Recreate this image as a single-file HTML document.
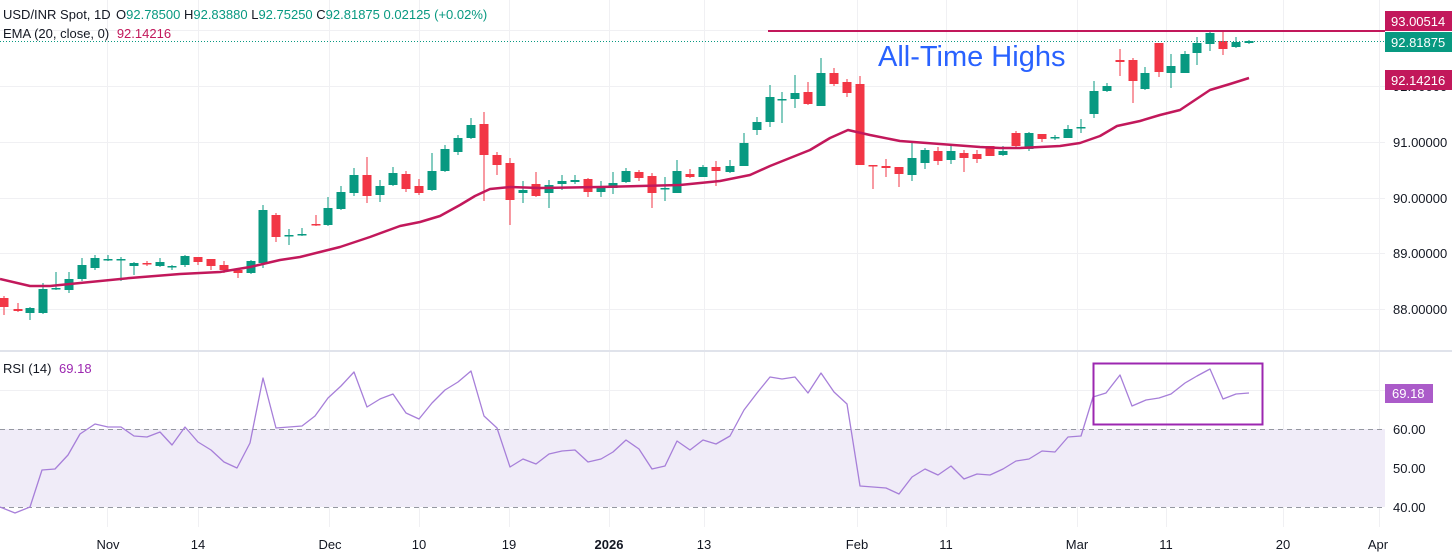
<!DOCTYPE html>
<html><head><meta charset="utf-8">
<style>
html,body{margin:0;padding:0;background:#fff;}
svg{display:block;font-family:"Liberation Sans",sans-serif;}
</style></head>
<body>
<svg width="1452" height="555" viewBox="0 0 1452 555" xmlns="http://www.w3.org/2000/svg">
<rect width="1452" height="555" fill="#fff"/>
<g stroke="#f0f0f3" stroke-width="1">
<line x1="0" y1="30.5" x2="1385" y2="30.5"/>
<line x1="0" y1="86.5" x2="1385" y2="86.5"/>
<line x1="0" y1="142.5" x2="1385" y2="142.5"/>
<line x1="0" y1="198.5" x2="1385" y2="198.5"/>
<line x1="0" y1="253.5" x2="1385" y2="253.5"/>
<line x1="0" y1="309.5" x2="1385" y2="309.5"/>
<line x1="0" y1="390.5" x2="1385" y2="390.5"/>
<line x1="0" y1="468.5" x2="1385" y2="468.5"/>
<line x1="107.5" y1="0" x2="107.5" y2="527"/>
<line x1="198.5" y1="0" x2="198.5" y2="527"/>
<line x1="329.5" y1="0" x2="329.5" y2="527"/>
<line x1="419.5" y1="0" x2="419.5" y2="527"/>
<line x1="509.5" y1="0" x2="509.5" y2="527"/>
<line x1="609.5" y1="0" x2="609.5" y2="527"/>
<line x1="704.5" y1="0" x2="704.5" y2="527"/>
<line x1="857.5" y1="0" x2="857.5" y2="527"/>
<line x1="946.5" y1="0" x2="946.5" y2="527"/>
<line x1="1077.5" y1="0" x2="1077.5" y2="527"/>
<line x1="1166.5" y1="0" x2="1166.5" y2="527"/>
<line x1="1283.5" y1="0" x2="1283.5" y2="527"/>
<line x1="1379.5" y1="0" x2="1379.5" y2="527"/>
</g>
<line x1="0" y1="351" x2="1452" y2="351" stroke="#e0e3eb" stroke-width="2"/>
<rect x="0" y="429" width="1385" height="78" fill="#f0ecf8"/>
<line x1="0" y1="429.5" x2="1385" y2="429.5" stroke="#9598a1" stroke-dasharray="5,4"/>
<line x1="0" y1="507.5" x2="1385" y2="507.5" stroke="#9598a1" stroke-dasharray="5,4"/>

<!-- green candles -->
<path fill="none" stroke="#089981" stroke-width="1" d="M30 307V320M43 283V314M56 272V290M69 272V293M82 258V281M95 255V270M108 255V261M121 257V281M134 262V275M160 258V267M172 265V270M185 255V267M251 260V274M263 205V268M289 229V245M302 228V236M328 197V226M341 186V210M354 168V196M380 180V202M393 167V186M432 153V191M445 145V172M458 135V155M471 118V139M523 181V203M549 180V208M562 175V190M575 175V184M601 181V197M613 172V194M626 168V183M665 177V201M677 160V193M703 165V177M730 160V173M744 133V166M757 117V135M770 85V127M782 92V123M795 75V108M821 58V106M912 142V181M925 148V169M951 145V164M1003 146V156M1029 132V151M1055 135V140M1068 125V138M1081 119V133M1094 81V118M1107 83V92M1145 67V90M1171 54V88M1185 51V73M1197 37V65M1210 32V51M1236 37V48M1249 40V44"/>
<path fill="#089981" d="M25.5 308h9V313h-9zM38.5 289h9V313h-9zM51.5 288h9V289.5h-9zM64.5 279h9V290h-9zM77.5 265h9V279h-9zM90.5 258h9V268h-9zM103.5 259h9V260.5h-9zM116.5 259h9V260.5h-9zM129.5 263h9V266h-9zM155.5 262h9V266h-9zM167.5 266h9V267.5h-9zM180.5 256h9V265h-9zM246.5 261h9V273h-9zM258.5 210h9V263h-9zM284.5 235h9V236.5h-9zM297.5 234h9V235.5h-9zM323.5 208h9V225h-9zM336.5 192h9V209h-9zM349.5 175h9V193h-9zM375.5 186h9V195h-9zM388.5 173h9V185h-9zM427.5 171h9V190h-9zM440.5 149h9V171h-9zM453.5 138h9V152h-9zM466.5 125h9V138h-9zM518.5 190h9V193h-9zM544.5 185h9V193h-9zM557.5 181h9V184h-9zM570.5 180h9V182h-9zM596.5 188h9V192h-9zM608.5 183h9V188h-9zM621.5 171h9V182h-9zM660.5 188h9V189.5h-9zM672.5 171h9V193h-9zM698.5 167h9V177h-9zM725.5 166h9V172h-9zM739.5 143h9V166h-9zM752.5 122h9V130h-9zM765.5 97h9V122h-9zM777.5 99h9V100.5h-9zM790.5 93h9V99h-9zM816.5 73h9V106h-9zM907.5 158h9V175h-9zM920.5 150h9V163h-9zM946.5 151h9V160h-9zM998.5 151h9V155h-9zM1024.5 133h9V149h-9zM1050.5 137h9V138.5h-9zM1063.5 129h9V138h-9zM1076.5 127h9V128.5h-9zM1089.5 91h9V114h-9zM1102.5 86h9V91h-9zM1140.5 73h9V89h-9zM1166.5 66h9V73h-9zM1180.5 54h9V73h-9zM1192.5 43h9V53h-9zM1205.5 33h9V44h-9zM1231.5 42h9V47h-9zM1244.5 41h9V43h-9z"/>
<!-- red candles -->
<path fill="none" stroke="#f23645" stroke-width="1" d="M4 296V315M18 303V312M147 261V266M198 257V265M211 259V270M224 261V273M238 268V278M276 213V242M316 215V226M367 157V203M406 171V192M419 179V195M484 112V201M497 152V175M510 158V225M536 172V197M588 178V197M639 170V181M652 173V208M690 169V178M716 161V186M808 82V105M834 68V86M847 79V97M860 76V165M873 165V189M886 159V177M899 167V187M938 147V165M964 150V172M977 150V163M990 146V156M1016 131V149M1042 134V142M1120 49V76M1133 58V103M1159 43V77M1223 32V55"/>
<path fill="#f23645" d="M-0.5 298h9V307h-9zM13.5 309h9V311h-9zM142.5 263h9V264.5h-9zM193.5 257h9V262h-9zM206.5 259h9V266h-9zM219.5 265h9V270h-9zM233.5 270h9V273h-9zM271.5 215h9V237h-9zM311.5 224h9V225.5h-9zM362.5 175h9V196h-9zM401.5 174h9V189h-9zM414.5 186h9V193h-9zM479.5 124h9V155h-9zM492.5 155h9V165h-9zM505.5 163h9V200h-9zM531.5 184h9V196h-9zM583.5 179h9V192h-9zM634.5 172h9V178h-9zM647.5 176h9V193h-9zM685.5 174h9V177h-9zM711.5 167h9V171h-9zM803.5 92h9V104h-9zM829.5 73h9V84h-9zM842.5 82h9V93h-9zM855.5 84h9V165h-9zM868.5 165h9V166.5h-9zM881.5 166h9V168h-9zM894.5 167h9V174h-9zM933.5 151h9V161h-9zM959.5 153h9V158h-9zM972.5 154h9V159h-9zM985.5 146h9V156h-9zM1011.5 133h9V146h-9zM1037.5 134h9V139h-9zM1115.5 60h9V62h-9zM1128.5 60h9V81h-9zM1154.5 43h9V72h-9zM1218.5 41h9V49h-9z"/>

<polyline fill="none" stroke="#c2185b" stroke-width="2.5" stroke-linejoin="round" points="0,279 30,286 50,286 80,283 130,278 180,274 220,272 250,267 280,260 300,257 320,252 340,247 370,237 400,226 420,222 440,216 460,205 475,196 490,189 510,187 540,188 600,187 640,186 680,185 720,181 750,175 770,166 790,158 810,150 830,138 848,130 870,135 900,141 940,144 980,147 1000,148 1020,148 1040,147 1060,146 1080,143 1100,136 1117,126 1140,121 1160,115 1180,110 1210,90 1230,84 1249,78"/>
<polyline fill="none" stroke="#a77fd9" stroke-width="1.3" stroke-linejoin="round" points="0,507 15,513 30,507 42,470 55,469 68,455 80,434 95,424 108,427 121,427 134,436 147,437 160,432 172,445 185,427 198,442 211,450 224,462 237,468 250,443 263,378 276,428 289,427 302,426 315,416 328,398 341,386 354,372 367,407 380,399 393,394 406,413 419,419 432,403 445,390 458,382 471,371 484,416 497,428 510,467 523,459 536,464 549,454 562,451 575,450 588,462 601,459 613,452 626,440 639,449 652,469 665,466 677,441 690,450 703,440 716,444 730,436 744,410 757,393 770,377 782,379 795,377 808,393 821,373 834,392 847,404 860,486 873,487 886,488 899,494 912,477 925,469 938,475 951,466 964,479 977,474 990,475 1003,469 1016,461 1029,459 1042,451 1055,452 1068,437 1081,436 1093,397 1106,393 1120,375 1132,406 1146,400 1159,398 1171,394 1185,383 1197,376 1210,369 1223,399 1236,394 1249,393"/>
<rect x="1093.5" y="363.5" width="169" height="61" fill="none" stroke="#9c27b0" stroke-width="2"/>
<line x1="0" y1="41.5" x2="1385" y2="41.5" stroke="#089981" stroke-dasharray="1,2" stroke-width="1"/>
<line x1="768" y1="31" x2="1385" y2="31" stroke="#c2185b" stroke-width="2"/>
<text x="878" y="66" font-size="29" fill="#2962ff">All-Time Highs</text>
<text x="3" y="19" font-size="13" fill="#131722">USD/INR Spot, 1D</text>
<text x="116" y="19" font-size="13" fill="#131722">O<tspan fill="#089981">92.78500</tspan>  H<tspan fill="#089981">92.83880</tspan>  L<tspan fill="#089981">92.75250</tspan>  C<tspan fill="#089981">92.81875</tspan>  <tspan fill="#089981">0.02125 (+0.02%)</tspan></text>
<text x="3" y="38" font-size="13" fill="#131722">EMA (20, close, 0) <tspan fill="#c2185b" dx="4">92.14216</tspan></text>
<text x="3" y="373" font-size="13" fill="#131722">RSI (14) <tspan fill="#9c27b0" dx="4">69.18</tspan></text>
<g font-size="13" fill="#131722">
<text x="1393" y="91">92.00000</text>
<text x="1393" y="147">91.00000</text>
<text x="1393" y="203">90.00000</text>
<text x="1393" y="258">89.00000</text>
<text x="1393" y="314">88.00000</text>
<text x="1393" y="434">60.00</text>
<text x="1393" y="473">50.00</text>
<text x="1393" y="512">40.00</text>
</g>
<rect x="1385" y="11" width="67" height="20" fill="#c2185b"/>
<text x="1391" y="26" font-size="13" fill="#fff">93.00514</text>
<rect x="1385" y="32" width="67" height="20" fill="#089981"/>
<text x="1391" y="47" font-size="13" fill="#fff">92.81875</text>
<rect x="1385" y="70" width="67" height="20" fill="#c2185b"/>
<text x="1391" y="85" font-size="13" fill="#fff">92.14216</text>
<rect x="1385" y="384" width="48" height="19" fill="#ab5bc9"/>
<text x="1392" y="398" font-size="13" fill="#fff">69.18</text>
<g font-size="13" fill="#131722" text-anchor="middle">
<text x="108" y="549">Nov</text>
<text x="198" y="549">14</text>
<text x="330" y="549">Dec</text>
<text x="419" y="549">10</text>
<text x="509" y="549">19</text>
<text x="609" y="549" font-weight="bold">2026</text>
<text x="704" y="549">13</text>
<text x="857" y="549">Feb</text>
<text x="946" y="549">11</text>
<text x="1077" y="549">Mar</text>
<text x="1166" y="549">11</text>
<text x="1283" y="549">20</text>
<text x="1378" y="549">Apr</text>
</g>
</svg>
</body></html>
